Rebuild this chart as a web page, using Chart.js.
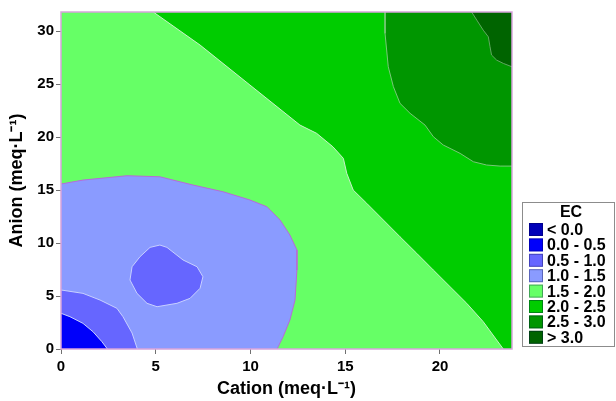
<!DOCTYPE html>
<html>
<head>
<meta charset="utf-8">
<script src="https://cdn.jsdelivr.net/npm/chart.js@4/dist/chart.umd.min.js"></script>
<style>
  html, body { margin: 0; padding: 0; background: #ffffff; }
  #wrap { position: relative; width: 616px; height: 401px; }
</style>
</head>
<body>
<div id="wrap"><canvas id="c" width="616" height="401"></canvas></div>
<script>
// ---- axis ranges & ticks ----
const xMin = 0, xMax = 23.8;
const yMin = 0, yMax = 31.8;
const xTicks = [0, 5, 10, 15, 20];
const yTicks = [0, 5, 10, 15, 20, 25, 30];
const xTitle = 'Cation (meq\u00B7L\u207B\u00B9)';
const yTitle = 'Anion (meq\u00B7L\u207B\u00B9)';

// ---- legend classes ----
const legendTitle = 'EC';
const ecClasses = ['< 0.0', '0.0 - 0.5', '0.5 - 1.0', '1.0 - 1.5', '1.5 - 2.0', '2.0 - 2.5', '2.5 - 3.0', '> 3.0'];
const ecColors  = ['#0000b8', '#0000fa', '#6666ff', '#8a9bff', '#66ff66', '#00cc00', '#009600', '#006400'];

// ---- contour lines (Cation, Anion) ----
const contour05 = [[0,3.37],[0.47,3.05],[1.16,2.42],[1.69,1.63],[2.16,0.69],[2.45,0]];
const contour10 = [[0,5.57],[1.16,5.25],[2.06,4.62],[2.95,3.84],[3.27,3.05],[3.75,1.51],[4.03,0]];
const island10  = [[5.22,9.81],[5.59,9.59],[6.44,8.40],[7.18,7.76],[7.49,6.82],[7.34,5.73],[6.81,4.78],[6.12,4.31],[5.07,3.99],[4.54,4.31],[4.01,5.25],[3.64,6.51],[3.75,7.76],[4.17,8.71],[4.70,9.59]];
const contour15 = [[0,15.57],[1.16,15.94],[3.48,16.35],[5.22,16.25],[6.97,15.47],[8.55,14.84],[9.97,14.06],[10.87,13.42],[11.56,12.17],[12.08,10.75],[12.45,9.34],[12.45,7.45],[12.35,4.62],[12.08,2.74],[11.72,1.16],[11.4,0]];
const contour20 = [[4.87,31.8],[7.34,28.68],[9.97,24.91],[12.61,21.13],[13.49,20.35],[14.35,19.08],[14.90,17.99],[15.08,16.58],[15.42,15.0],[16.13,13.75],[17.01,12.17],[17.89,10.59],[18.77,9.03],[19.65,7.45],[20.53,5.88],[21.41,4.31],[22.28,2.58],[22.99,0.85],[23.34,0]];
const contour25 = [[17.10,31.8],[17.10,29.78],[17.27,26.63],[17.54,24.75],[17.89,23.18],[18.42,22.24],[19.21,21.13],[19.65,20.03],[20.17,19.25],[21.06,18.46],[21.76,17.67],[22.46,17.36],[23.17,17.26],[23.8,17.26]];
const contour30 = [[21.67,31.8],[21.94,31.04],[22.28,30.09],[22.55,29.46],[22.64,28.52],[22.72,27.74],[22.99,27.26],[23.34,26.95],[23.8,26.63]];

// ---- build filled regions (bottom layer first) ----
const pts = arr => arr.map(p => ({x: p[0], y: p[1]}));
const regions = [
  {color: ecColors[4], poly: [[xMin,yMin],[xMax,yMin],[xMax,yMax],[xMin,yMax]]},
  {color: ecColors[5], poly: contour20.concat([[xMax,yMin],[xMax,yMax]])},
  {color: ecColors[6], poly: contour25.concat([[xMax,yMax]])},
  {color: ecColors[7], poly: contour30.concat([[xMax,yMax]])},
  {color: ecColors[3], poly: contour15.concat([[xMin,yMin]])},
  {color: ecColors[2], poly: contour10.concat([[xMin,yMin]])},
  {color: ecColors[1], poly: contour05.concat([[xMin,yMin]])},
  {color: ecColors[2], poly: island10}
];
const lines = [
  {color: '#b86ad8', line: contour15},
  {color: '#c8d0ff', line: contour10},
  {color: '#c8d0ff', line: contour05},
  {color: '#c8d0ff', line: island10.concat([island10[0]])},
  {color: '#c8f0c8', line: contour20},
  {color: '#78c878', line: contour25},
  {color: '#60a860', line: contour30}
];

const datasets = [];
let ord = 1000;
regions.forEach(r => datasets.push({
  data: pts(r.poly), showLine: true, fill: 'shape', backgroundColor: r.color,
  borderColor: 'rgba(0,0,0,0)', borderWidth: 1, pointRadius: 0, tension: 0, order: ord--
}));
lines.forEach(l => datasets.push({
  data: pts(l.line), showLine: true, fill: false, borderColor: l.color,
  borderWidth: 1, pointRadius: 0, tension: 0, order: ord--
}));

const FONT = "'Liberation Sans', Arial, sans-serif";

const frame = {
  id: 'frame',
  afterDatasetsDraw(chart) {
    const {ctx, chartArea: a} = chart;
    ctx.save();
    ctx.strokeStyle = '#d8a4dc';
    ctx.lineWidth = 1.5;
    ctx.strokeRect(a.left, a.top, a.right - a.left, a.bottom - a.top);
    ctx.restore();
  }
};

const ecLegend = {
  id: 'ecLegend',
  afterDraw(chart) {
    const ctx = chart.ctx;
    const bx = 522.5, by = 202.5, bw = 92, bh = 144;
    ctx.save();
    ctx.strokeStyle = '#8c8c8c';
    ctx.lineWidth = 1;
    ctx.strokeRect(bx, by, bw, bh);
    ctx.fillStyle = '#000';
    ctx.font = 'bold 16px ' + FONT;
    ctx.textBaseline = 'middle';
    ctx.textAlign = 'center';
    ctx.fillText(legendTitle, 571, 213);
    ctx.textAlign = 'left';
    ecClasses.forEach((lab, i) => {
      const cy = 229.5 + i * 15.4;
      ctx.fillStyle = ecColors[i];
      ctx.fillRect(529, cy - 6.5, 14, 13);
      ctx.strokeStyle = 'rgba(0,0,60,0.35)';
      ctx.strokeRect(529.5, cy - 6, 13, 12);
      ctx.fillStyle = '#000';
      ctx.fillText(lab, 547, cy + 1);
    });
    ctx.restore();
  }
};

new Chart(document.getElementById('c'), {
  type: 'scatter',
  data: { datasets },
  options: {
    responsive: false,
    animation: false,
    layout: { padding: { left: 6, right: 104, top: 12, bottom: 0 } },
    plugins: { legend: { display: false }, tooltip: { enabled: false } },
    scales: {
      x: {
        type: 'linear', min: xMin, max: xMax,
        afterBuildTicks: s => { s.ticks = xTicks.map(v => ({value: v})); },
        afterFit: s => { s.height = 52; },
        ticks: { includeBounds: false, color: '#000', padding: 4, font: { family: FONT, size: 15, weight: 'bold' } },
        grid: { drawOnChartArea: false, drawTicks: true, tickLength: 5, color: '#707070' },
        border: { display: false },
        title: { display: true, text: xTitle, color: '#000', padding: { top: 0, bottom: 1 }, font: { family: FONT, size: 18, weight: 'bold' } }
      },
      y: {
        type: 'linear', min: yMin, max: yMax,
        afterBuildTicks: s => { s.ticks = yTicks.map(v => ({value: v})); },
        afterFit: s => { s.width = 55; },
        ticks: { includeBounds: false, color: '#000', padding: 2, font: { family: FONT, size: 15, weight: 'bold' } },
        grid: { drawOnChartArea: false, drawTicks: true, tickLength: 5, color: '#707070' },
        border: { display: false },
        title: { display: true, text: yTitle, color: '#000', padding: { top: 0, bottom: 0 }, font: { family: FONT, size: 18, weight: 'bold' } }
      }
    }
  },
  plugins: [frame, ecLegend]
});
</script>
</body>
</html>
